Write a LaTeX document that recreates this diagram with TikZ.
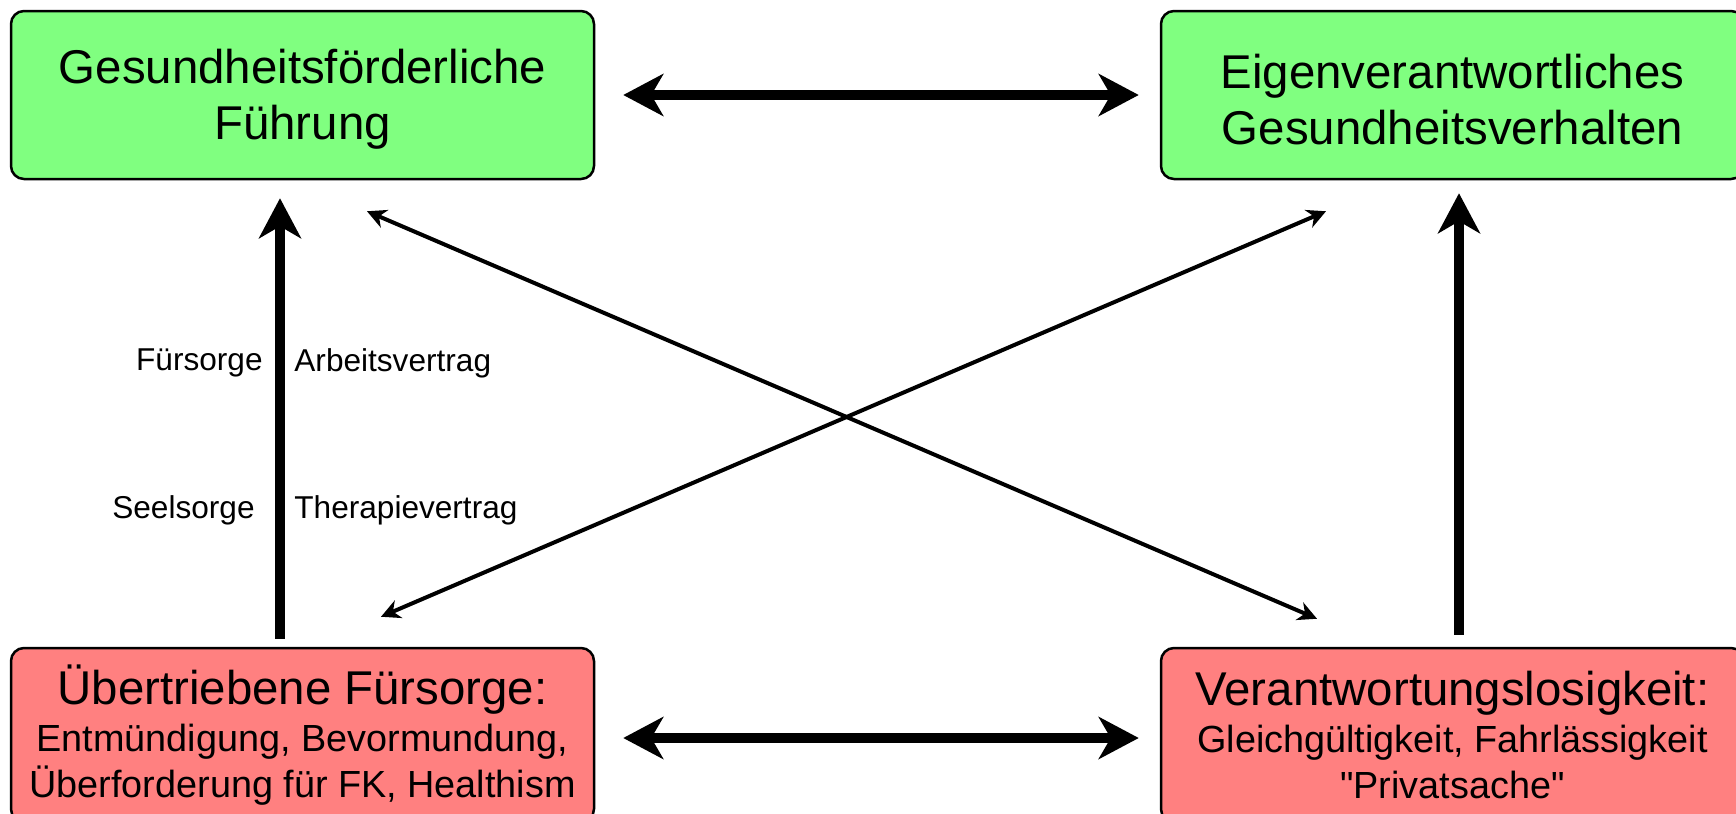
\documentclass[tikz,border=0pt]{standalone}
\usepackage{fontspec}
\setmainfont{Liberation Sans}[Ligatures=TeXOff]
\usetikzlibrary{arrows.meta,calc}
\definecolor{boxgreen}{HTML}{80FF80}
\definecolor{boxred}{HTML}{FF8080}
\begin{document}
\begin{tikzpicture}[x=0.5pt,y=-0.5pt,
  box/.style={draw=black, line width=1.25pt, rounded corners=6.5pt,
    minimum width=291.5pt, align=center, inner sep=0pt},
  goodbox/.style={box, fill=boxgreen, minimum height=84pt,
    font=\fontsize{23.7pt}{28pt}\selectfont},
  badbox/.style={box, fill=boxred, minimum height=87pt,
    font=\fontsize{18.9pt}{22.8pt}\selectfont},
  bigarrow/.style={line width=5.3pt, -{Stealth[length=20pt,width=21pt,inset=6pt]}},
  bigdouble/.style={line width=5.3pt,
    {Stealth[length=20pt,width=21pt,inset=6pt]}-{Stealth[length=20pt,width=21pt,inset=6pt]}},
  thindouble/.style={line width=2pt,
    {Stealth[length=9.5pt,width=9.5pt,inset=3pt]}-{Stealth[length=9.5pt,width=9.5pt,inset=3pt]}},
  lbl/.style={font=\fontsize{15.8pt}{19pt}\selectfont, inner sep=0pt}]

\useasboundingbox (0,0) rectangle (1736,814);

% the four boxes
\node[goodbox] (tl) at (302.5,95) {\rule{0pt}{21.5pt}Gesundheitsförderliche\\Führung};
\node[goodbox] (tr) at (1452.5,95) {\rule{0pt}{21.5pt}Eigenverantwortliches\\Gesundheitsverhalten};
\node[badbox] (bl) at (302.5,735)
  {{\fontsize{23.7pt}{28pt}\selectfont Übertriebene Fürsorge:}\\[0.8pt]
   Entmündigung, Bevormundung,\\Überforderung für FK, Healthism};
\node[badbox] (br) at (1452.5,735)
  {{\fontsize{23.7pt}{28pt}\selectfont Verantwortungslosigkeit:}\\[0.8pt]
   Gleichgültigkeit, Fahrlässigkeit\\"Privatsache"};

% horizontal double arrows
\draw[bigdouble, shorten <=14pt, shorten >=10.5pt] (tl.east) -- (tr.west);
\draw[bigdouble, shorten <=14pt, shorten >=10.5pt]
  ($(bl.east)+(0,3)$) -- ($(br.west)+(0,3)$);

% vertical arrows
\draw[bigarrow, shorten <=4pt, shorten >=9pt]
  ($(bl.north)+(-22.5,0)$) -- ($(tl.south)+(-22.5,0)$);
\draw[bigarrow, shorten <=6pt, shorten >=6.5pt]
  ($(br.north)+(6.5,0)$) -- ($(tr.south)+(6.5,0)$);

% crossing diagonals
\draw[thindouble] ($(tl.south)+(64.5,31)$) -- ($(br.north)+(-135.5,-28)$);
\draw[thindouble] ($(bl.north)+(78.5,-30)$) -- ($(tr.south)+(-126.5,31)$);

% labels beside the left arrow
\node[lbl, anchor=east] (fu) at (263,363) {Fürsorge};
\node[lbl, anchor=west] (av) at (294,363) {Arbeitsvertrag};
\node[lbl, anchor=east] (se) at (255,510) {Seelsorge};
\node[lbl, anchor=west] (tv) at (294,510) {Therapievertrag};
\end{tikzpicture}
\end{document}
